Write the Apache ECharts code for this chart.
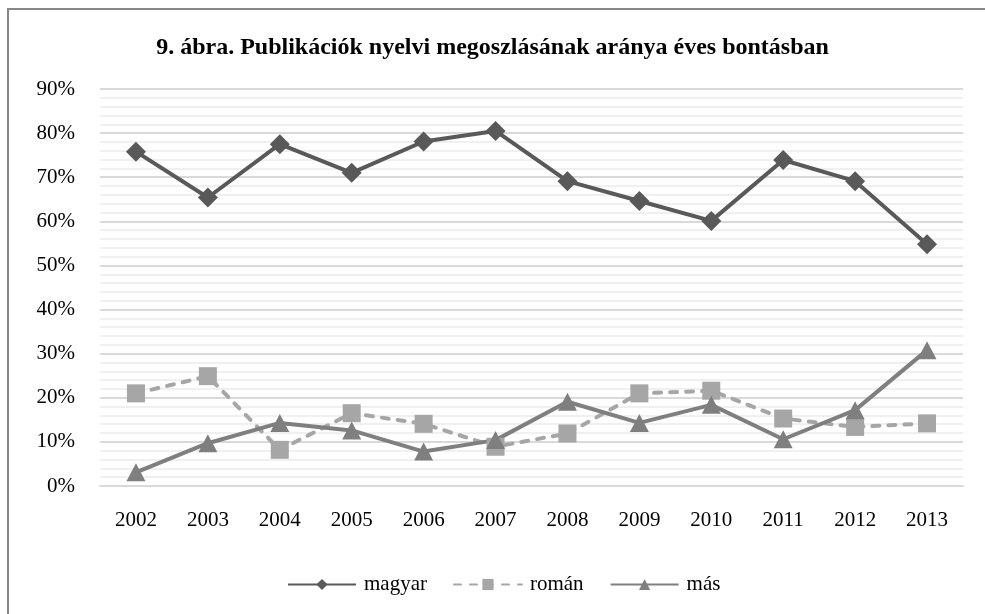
<!DOCTYPE html>
<html>
<head>
<meta charset="utf-8">
<script src="https://cdn.jsdelivr.net/npm/echarts@6/dist/echarts.min.js"></script>
<style>
  html, body { margin: 0; padding: 0; background: #fff; }
  #chart { width: 985px; height: 614px; }
</style>
</head>
<body>
<div id="chart"></div>
<script>
// évek és arányok (%)
const years = ['2002', '2003', '2004', '2005', '2006', '2007', '2008', '2009', '2010', '2011', '2012', '2013'];
const magyar = [75.8, 65.4, 77.5, 71.0, 78.1, 80.5, 69.1, 64.6, 60.1, 73.9, 69.1, 54.8];
const roman = [21.0, 24.9, 8.2, 16.5, 14.1, 8.9, 11.9, 21.0, 21.6, 15.3, 13.4, 14.2];
const mas = [3.1, 9.7, 14.3, 12.6, 7.8, 10.4, 19.1, 14.3, 18.4, 10.6, 17.2, 30.8];

const serif = '"Liberation Serif", "Times New Roman", serif';

const chart = echarts.init(document.getElementById('chart'));
chart.setOption({
    animation: false,
    textStyle: { fontFamily: serif },
    graphic: [{
        type: 'rect',
        shape: { x: 8, y: 9, width: 1000, height: 700 },
        style: { fill: 'none', stroke: '#878787', lineWidth: 2 },
        silent: true
    }],
    title: {
        text: '9. ábra. Publikációk nyelvi megoszlásának aránya éves bontásban',
        left: 'center',
        top: 31,
        textStyle: { fontFamily: serif, fontWeight: 'bold', fontSize: 24, color: '#000' }
    },
    legend: {
        bottom: 14,
        left: 282,
        itemWidth: 68,
        itemHeight: 14,
        itemGap: 26,
        textStyle: { fontFamily: serif, fontSize: 21, color: '#000', padding: [0, 0, 0, 3] },
        data: ['magyar', 'román', 'más']
    },
    grid: { left: 100, right: 22, top: 89, bottom: 128 },
    xAxis: {
        type: 'category',
        data: years,
        axisLine: { lineStyle: { color: '#d9d9d9', width: 2 } },
        axisTick: { show: false },
        axisLabel: { fontFamily: serif, fontSize: 21, color: '#000', margin: 24 }
    },
    yAxis: {
        type: 'value',
        min: 0,
        max: 90,
        interval: 10,
        axisLine: { show: false },
        axisTick: { show: false },
        axisLabel: { fontFamily: serif, fontSize: 21, color: '#000', margin: 25, formatter: '{value}%' },
        splitLine: { lineStyle: { color: '#d9d9d9', width: 2 } },
        minorTick: { show: false, splitNumber: 5 },
        minorSplitLine: { show: true, lineStyle: { color: '#f0f0f0', width: 2 } }
    },
    series: [
        {
            name: 'magyar',
            type: 'line',
            data: magyar,
            symbol: 'diamond',
            symbolSize: 20,
            itemStyle: { color: '#595959' },
            lineStyle: { color: '#595959', width: 4 }
        },
        {
            name: 'román',
            type: 'line',
            data: roman,
            symbol: 'rect',
            symbolSize: 18,
            itemStyle: { color: '#a6a6a6' },
            lineStyle: { color: '#a6a6a6', width: 4, type: [7, 9], cap: 'round' }
        },
        {
            name: 'más',
            type: 'line',
            data: mas,
            symbol: 'triangle',
            symbolSize: [19, 18],
            itemStyle: { color: '#7f7f7f' },
            lineStyle: { color: '#7f7f7f', width: 4 }
        }
    ]
});
window.addEventListener('resize', () => chart.resize());
</script>
</body>
</html>
